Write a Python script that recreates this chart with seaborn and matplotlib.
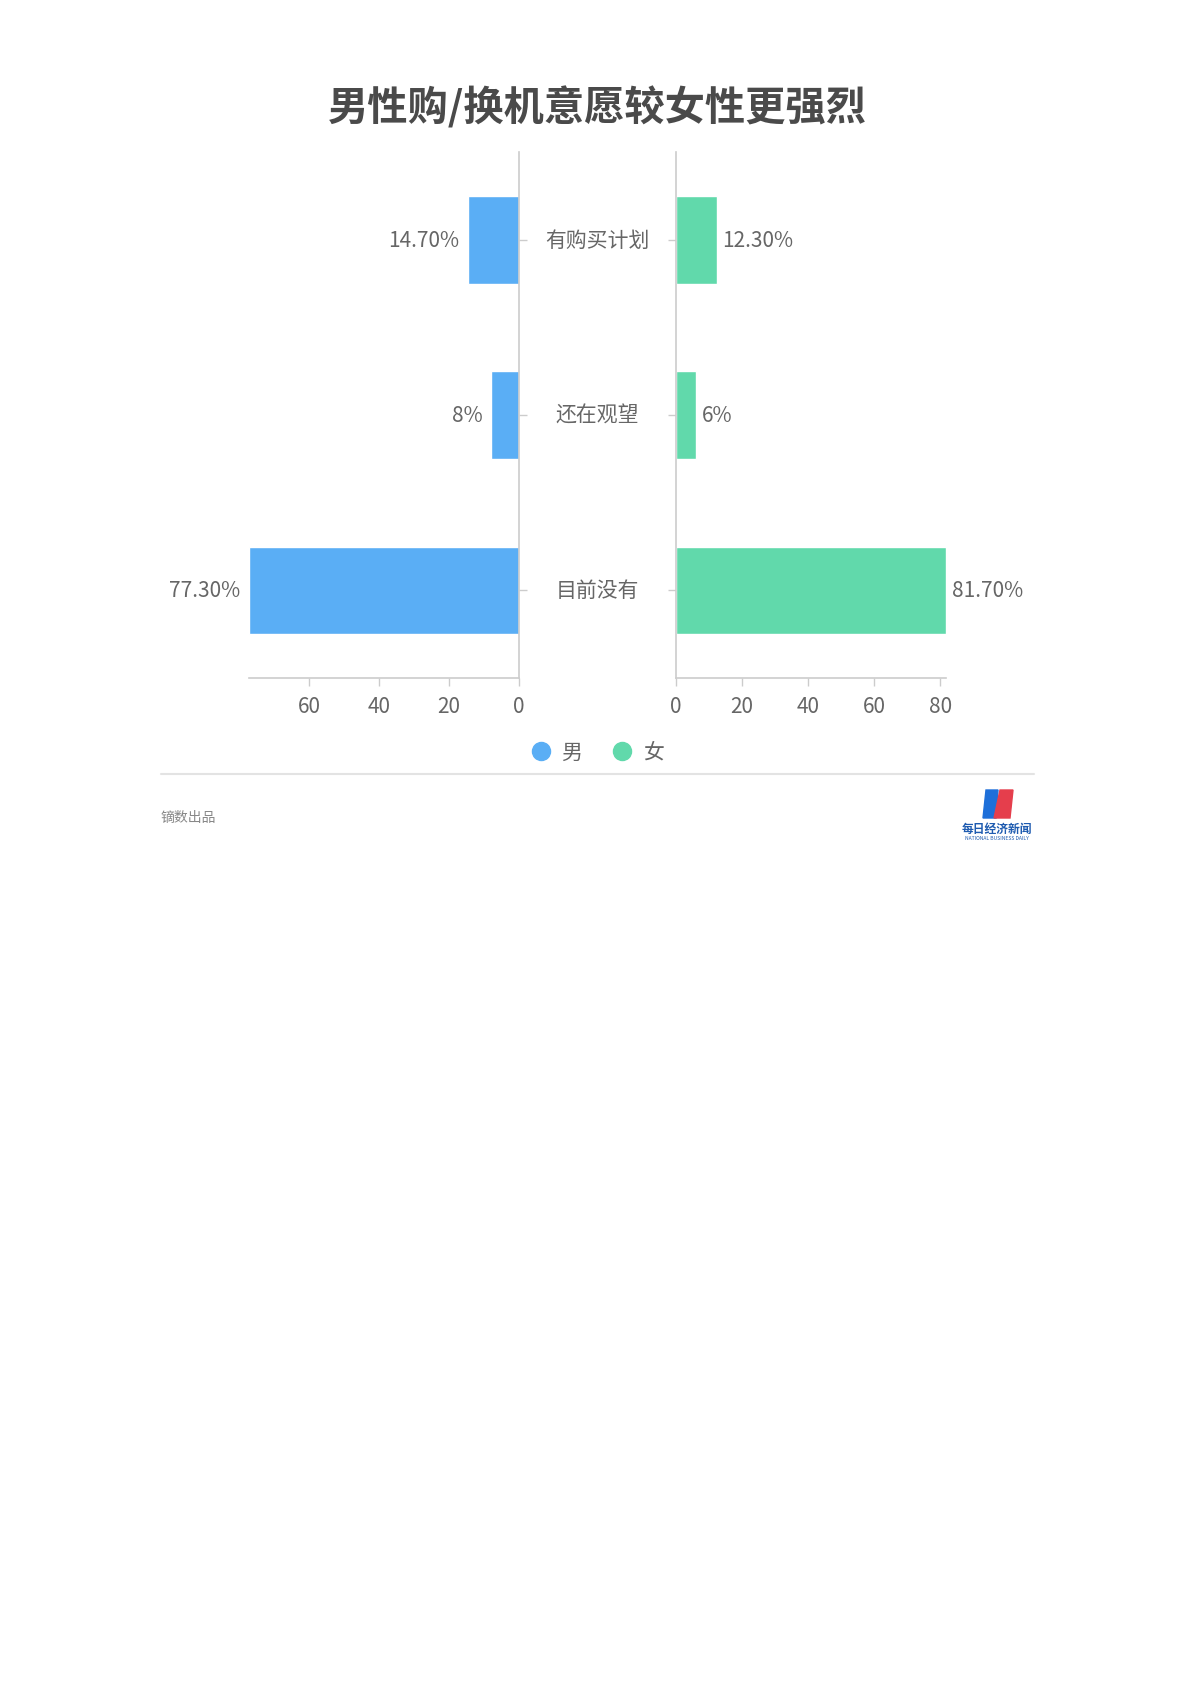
import matplotlib
matplotlib.use("Agg")
import matplotlib.pyplot as plt
import seaborn as sns
import pandas as pd
from matplotlib.lines import Line2D
from matplotlib.patches import Polygon

# === Data ===
categories = ["有购买计划", "还在观望", "目前没有"]
male = [14.7, 8.0, 77.3]
female = [12.3, 6.0, 81.7]
male_labels = ["14.70%", "8%", "77.30%"]
female_labels = ["12.30%", "6%", "81.70%"]
left_ticks = [0, 20, 40, 60]
right_ticks = [0, 20, 40, 60, 80]
title = "男性购/换机意愿较女性更强烈"
legend_names = ["男", "女"]

BLUE = "#5aaef5"
GREEN = "#61d9ab"
TXT = "#666666"
AXC = "#cccccc"

sns.set_theme(style="white")
plt.rcParams["font.family"] = ["Noto Sans CJK SC", "DejaVu Sans"]

W, H = 1189, 1683
fig = plt.figure(figsize=(W / 100, H / 100), dpi=100)
fig.patch.set_facecolor("white")


def px(x, y):
    return (x / W, 1 - y / H)


df_m = pd.DataFrame({"cat": categories, "val": male})
df_f = pd.DataFrame({"cat": categories, "val": female})

# axes placement (pixels)
top, bottom = 153, 679
axl = fig.add_axes([249 / W, 1 - bottom / H, 270 / W, (bottom - top) / H])
axr = fig.add_axes([676 / W, 1 - bottom / H, 270 / W, (bottom - top) / H])

sns.barplot(data=df_m, x="val", y="cat", ax=axl, color=BLUE, width=0.5, saturation=1)
sns.barplot(data=df_f, x="val", y="cat", ax=axr, color=GREEN, width=0.5, saturation=1)

axl.set_xlim(max(male), 0)
axr.set_xlim(0, max(female))
for ax, ticks in ((axl, left_ticks), (axr, right_ticks)):
    ax.set_ylim(2.5, -0.5)
    ax.set_xticks(ticks)
    ax.set_xlabel("")
    ax.set_ylabel("")
    ax.set_facecolor("white")
    ax.tick_params(axis="x", colors=AXC, labelcolor=TXT, labelsize=15,
                   length=6, width=1, direction="out", pad=6, bottom=True)
    ax.tick_params(axis="y", colors=AXC, length=6, width=1, labelleft=False, labelright=False)
    for s in ax.spines.values():
        s.set_visible(False)
        s.set_color(AXC)
        s.set_linewidth(1.2)
    ax.spines["bottom"].set_visible(True)

axl.spines["right"].set_visible(True)
axl.yaxis.tick_right()
axl.tick_params(axis="y", labelright=False)
axr.spines["left"].set_visible(True)
axr.yaxis.tick_left()
axr.tick_params(axis="y", labelleft=False)

# value labels
for i, (v, lab) in enumerate(zip(male, male_labels)):
    axl.annotate(lab, (v, i), xytext=(-6, 0), textcoords="offset points",
                 ha="right", va="center", fontsize=15, color=TXT)
for i, (v, lab) in enumerate(zip(female, female_labels)):
    axr.annotate(lab, (v, i), xytext=(4, 0), textcoords="offset points",
                 ha="left", va="center", fontsize=15, color=TXT)

# category labels in the middle
for i, c in enumerate(categories):
    axr.annotate(c, (0, i), xytext=(-79 * 0.72, 0), textcoords="offset points",
                 ha="center", va="center", fontsize=15, color=TXT,
                 annotation_clip=False)

# title
fig.text(*px(597, 108), title, ha="center", va="center", fontsize=29,
         fontweight="bold", color="#4a4a4a")

# legend
handles = [Line2D([], [], marker="o", ls="", markersize=13, color=BLUE),
           Line2D([], [], marker="o", ls="", markersize=13, color=GREEN)]
fig.legend(handles, legend_names, loc="center", bbox_to_anchor=px(597, 753),
           ncol=2, frameon=False, fontsize=15, labelcolor=TXT,
           handletextpad=0.5, columnspacing=1.4, handlelength=1.0)

# separator + footer
fig.add_artist(Line2D([161 / W, 1034 / W], [1 - 775 / H] * 2, color="#e3e3e3", lw=1.5))
fig.text(*px(161, 818), "镝数出品", ha="left", va="center", fontsize=10, color="#888888")

# logo
blue_shape = [px(986, 791), px(998, 791), px(996, 819), px(983, 819)]
red_shape = [px(1000, 791), px(1013, 791), px(1010, 819), px(994, 819)]
fig.add_artist(Polygon(blue_shape, closed=True, transform=fig.transFigure, color="#1e6fd9"))
fig.add_artist(Polygon(red_shape, closed=True, transform=fig.transFigure, color="#e53e4c"))
fig.text(*px(997, 829), "每日经济新闻", ha="center", va="center", fontsize=8.5,
         fontweight="bold", color="#1e5bb0")
fig.text(*px(997, 839), "NATIONAL BUSINESS DAILY", ha="center", va="center", fontsize=3.6,
         color="#1e5bb0")

fig.savefig("out.png", dpi=100, facecolor="white")
